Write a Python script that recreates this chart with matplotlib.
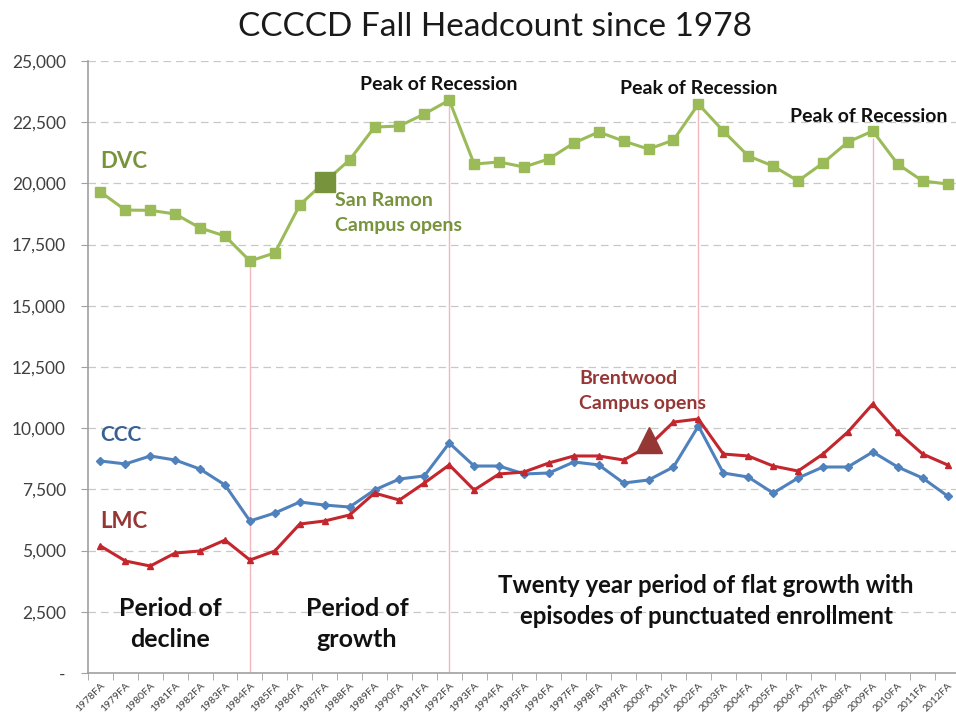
import matplotlib
matplotlib.use("Agg")
import matplotlib.pyplot as plt
from matplotlib.ticker import FuncFormatter, FixedLocator

plt.rcParams['font.family'] = ['Lato', 'DejaVu Sans']

years = [f"{y}FA" for y in range(1978, 2013)]
dvc = [19650, 18910, 18900, 18750, 18180, 17850, 16830, 17160, 19120, 20060,
       20960, 22300, 22345, 22835, 23400, 20790, 20875, 20670, 21000, 21650,
       22100, 21730, 21400, 21770, 23240, 22140, 21120, 20710, 20100, 20830,
       21690, 22140, 20790, 20100, 19975]
ccc = [8660, 8540, 8865, 8700, 8330, 7680, 6210, 6535, 6985, 6860,
       6780, 7475, 7925, 8050, 9395, 8455, 8455, 8130, 8170, 8620,
       8500, 7760, 7885, 8415, 10090, 8170, 8005, 7350, 7965, 8415,
       8415, 9030, 8415, 7965, 7230]
lmc = [5190, 4575, 4370, 4900, 4985, 5430, 4615, 4985, 6085, 6210,
       6455, 7350, 7065, 7760, 8500, 7475, 8130, 8210, 8580, 8865,
       8865, 8700, 9270, 10250, 10375, 8945, 8865, 8455, 8250, 8945,
       9845, 10990, 9845, 8945, 8500]
yticks = [0, 2500, 5000, 7500, 10000, 12500, 15000, 17500, 20000, 22500, 25000]

san_ramon_idx = 9
brentwood_idx = 22

C_DVC = '#9BBB59'
C_DVC_D = '#77933C'
C_CCC = '#4F81BD'
C_LMC = '#C3262C'
C_LMC_D = '#953735'
C_CCC_T = '#376092'

fig = plt.figure(figsize=(9.56, 7.19), dpi=100)
ax = fig.add_axes([88/956, 1-673/719, 1-88/956, (673-61)/719])

x = list(range(len(years)))

for v in yticks[1:]:
    ax.axhline(v, color='#C8C8C8', lw=0.9, ls=(0, (6, 4)), zorder=0)

vl = '#F2B8BE'
ax.vlines(6, 0, dvc[6], color=vl, lw=1.0, zorder=1)
ax.vlines(14, 0, dvc[14], color=vl, lw=1.0, zorder=1)
ax.vlines(24, lmc[24], dvc[24], color=vl, lw=1.0, zorder=1)
ax.vlines(31, lmc[31], dvc[31] - 300, color=vl, lw=1.0, zorder=1)

ax.plot(x, dvc, color=C_DVC, lw=2.2, marker='s', ms=6.5, zorder=3)
ax.plot(x, ccc, color=C_CCC, lw=2.2, marker='D', ms=4.5, zorder=3)
ax.plot(x, lmc, color=C_LMC, lw=2.2, marker='^', ms=5, zorder=4)

ax.plot([san_ramon_idx], [dvc[san_ramon_idx]], marker='s', ms=15, color=C_DVC_D, zorder=5)
ax.plot([brentwood_idx], [lmc[brentwood_idx] + 250], marker='^', ms=19, color=C_LMC_D, zorder=5)

ax.set_xlim(-0.5, 34.34)
ax.set_ylim(0, 25000)

ax.set_yticks(yticks)
ax.yaxis.set_major_formatter(FuncFormatter(lambda v, p: '-' if v == 0 else f"{int(v):,}"))
ax.tick_params(axis='y', length=5, color='#A0A0A0', labelsize=12.5, labelcolor='#404040', pad=11)

ax.set_xticks(x)
ax.set_xticklabels(years, rotation=45, ha='right', va='top', fontsize=7.5, color='#404040',
                   rotation_mode='anchor')
ax.xaxis.set_minor_locator(FixedLocator([i - 0.5 for i in range(36)]))
ax.tick_params(axis='x', which='major', length=0, pad=6)
ax.tick_params(axis='x', which='minor', length=5, color='#A0A0A0')

for s in ['top', 'right']:
    ax.spines[s].set_visible(False)
for s in ['left', 'bottom']:
    ax.spines[s].set_color('#A0A0A0')
    ax.spines[s].set_linewidth(1.2)

fig.text(495/956, 1-27/719, 'CCCCD Fall Headcount since 1978', ha='center', va='center',
         fontsize=24, color='#1A1A1A')

def px(xp, yp, s, **kw):
    fig.text(xp/956, 1-yp/719, s, **kw)

px(100, 162, 'DVC', fontsize=16, fontweight='bold', color=C_DVC_D, va='center')
px(100, 435, 'CCC', fontsize=15, fontweight='bold', color=C_CCC_T, va='center')
px(100, 522, 'LMC', fontsize=16, fontweight='bold', color=C_LMC_D, va='center')
px(335, 213, 'San Ramon\nCampus opens', fontsize=14, fontweight='bold', color=C_DVC_D,
   va='center', linespacing=1.6)
px(579, 391, 'Brentwood\nCampus opens', fontsize=14, fontweight='bold', color=C_LMC_D,
   va='center', linespacing=1.6)
px(439, 85, 'Peak of Recession', fontsize=14, fontweight='bold', color='#111111', ha='center', va='center')
px(699, 88, 'Peak of Recession', fontsize=14, fontweight='bold', color='#111111', ha='center', va='center')
px(869, 117, 'Peak of Recession', fontsize=14, fontweight='bold', color='#111111', ha='center', va='center')
px(170, 624, 'Period of\ndecline', fontsize=18, fontweight='bold', color='#111111', ha='center',
   va='center', linespacing=1.45)
px(357, 624, 'Period of\ngrowth', fontsize=18, fontweight='bold', color='#111111', ha='center',
   va='center', linespacing=1.45)
px(706, 601, 'Twenty year period of flat growth with\nepisodes of punctuated enrollment', fontsize=17.3,
   fontweight='bold', color='#111111', ha='center', va='center', linespacing=1.45)

fig.savefig('out.png', dpi=100)
